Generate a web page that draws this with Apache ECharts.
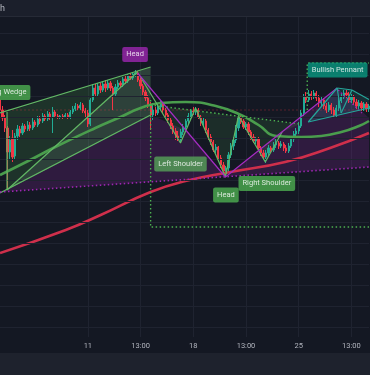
<!DOCTYPE html>
<html><head><meta charset="utf-8">
<script src="https://cdn.jsdelivr.net/npm/echarts@6/dist/echarts.min.js"></script>
<style>html,body{margin:0;padding:0;background:#141823;overflow:hidden}#c{width:370px;height:375px}</style>
</head><body><div id="c"></div>
<script>
// ---- candle data (price units) ----
const openP = [248,238,230,220,196,210,192,212,219,215,
222,219,223,220,226,223,229,227,232,229,
234,231,236,232,231,232,231,233,231,236,
239,242,240,243,237,235,224,248,260,254,
262,258,264,260,265,260,254,261,265,263,
269,267,272,270,274,275,268,262,256,250,
244,233,238,235,241,244,238,233,228,222,
217,212,209,216,221,227,232,237,236,238,
231,225,227,218,211,206,198,201,190,183,
177,180,193,202,208,220,230,227,221,224,
216,211,207,209,200,195,191,195,200,198,
203,205,202,204,200,197,202,209,214,217,
222,235,251,248,254,251,255,250,245,248,
242,238,243,238,233,240,247,251,255,253,
248,251,246,242,245,240,244,239];
const closeP = [238,230,220,196,208,191,212,219,215,222,
219,223,220,226,223,229,227,232,229,234,
231,236,232,231,232,231,233,231,236,239,
242,240,243,237,235,224,248,260,254,262,
258,264,260,265,260,254,261,265,263,269,
267,272,270,274,275,268,262,256,250,244,
233,238,235,241,244,238,233,228,222,217,
212,209,216,221,227,232,237,236,238,231,
225,227,218,211,206,198,201,190,183,177,
180,193,202,208,220,230,227,221,224,216,
211,207,209,200,195,191,195,200,198,203,
205,202,204,200,197,202,209,214,217,222,
235,251,248,254,251,255,250,245,248,242,
238,243,238,233,240,247,251,255,253,248,
251,246,242,245,240,244,239,242];
const lowP = [235,227,216,158,188,186,188,208,211,213,
216,217,217,218,221,221,224,225,227,227,
228,215,230,229,229,229,230,229,229,234,
237,238,238,235,230,221,222,246,251,251,
255,256,256,258,257,238,252,259,260,261,
264,265,268,268,271,266,259,253,247,240,
218,228,232,233,238,235,230,225,219,214,
208,207,206,213,218,224,229,233,233,229,
222,222,215,208,203,196,195,187,180,174,
171,176,190,198,205,217,224,219,218,213,
208,205,204,197,192,188,185,192,195,196,
200,199,200,197,195,195,200,206,211,214,
220,232,245,246,248,249,247,241,242,239,
235,236,234,230,231,237,245,249,250,245,
245,243,239,239,237,237,236,236];
const highP = [251,242,233,222,212,218,215,223,222,225,
224,227,226,230,228,232,232,235,234,237,
236,241,238,234,233,234,235,235,238,242,
245,244,246,245,240,238,250,264,264,265,
265,267,268,268,267,262,264,268,267,271,
272,274,275,276,278,277,270,264,258,253,
246,243,241,244,247,246,240,235,231,225,
220,217,219,224,229,235,239,241,241,240,
233,230,229,220,214,208,204,202,193,186,
182,196,205,211,223,233,232,229,226,226,
218,214,211,211,202,198,198,203,202,206,
209,207,207,206,203,205,212,217,220,226,
238,254,256,258,257,258,257,253,251,250,
245,246,245,241,243,250,254,258,258,256,
254,253,249,248,247,246,246,244];

// ---- time axis ----
const tickIndex = [35,56,77,98,119,140];
const tickLabels = ['11','13:00','18','13:00','25','13:00'];
const gridLevels = [21,42,63,84,105,126,147,168,189,210,231,252,273,294,315];

// ---- moving averages [candle index, price] ----
const maGreen = [[0,173],[12,188],[22,201],[38,220],[48,231],[56,240],[64,245],[74,246],[86,242],[96,233],[103,223],[110,212],[120,211],[128,212],[136,216],[143,222],[147,227]];
const maRed = [[0,95],[26.2,118],[40.1,133],[60,156],[73.9,167],[91.8,176],[113.6,186],[131.5,200],[147,215]];

// ---- drawings [candle index, price] ----
const wedgeUpper = [[0,235],[60,281]];
const wedgeLeft = [[2.8,236],[2.8,158]];
const wedgeInner = [[2.8,158],[54.8,276]];
const wedgeLower = [[0,155],[60,233]];
const wedgeFill = [[2.8,236],[60,281],[60,233],[2.8,158]];
const wedgeInnerFill = [[2.8,158],[54.8,276],[60,281],[60,233]];
const hsV = [[54.8,275],[89.8,171],[134.3,260]];
const hsBase = [[0,156],[147,181]];
const hsFill = [[0,155],[60,233],[73.9,218],[89.8,171],[134.3,260],[147,230],[147,181],[0,156]];
const ihsZig = [[56,271],[71.9,205],[77.9,240],[89.8,171],[95,232],[105.7,186],[112.4,216]];
const ihsNeck = [[60,243],[119.6,224]];
const ihsFill = [[63,242],[71.9,205],[77.9,240],[89.8,171],[95,232],[105.7,186],[112.4,216],[119.6,224]];
const targetBox = [[60,248],[60,121],[147,121]];
const pennantBox = [[122.4,238],[122.4,285],[147,285]];
const pennantLines = [
  [[122.8,226],[134.3,260]],
  [[134.3,260],[140.2,258]],
  [[140.2,258],[147,248.5]],
  [[122.8,226],[147,240]],
  [[134.3,260],[135.9,235]],
  [[135.9,235],[140.2,258]]
];
const pennantFill = [[122.8,226],[134.3,260],[140.2,258],[147,248.5],[147,240]];
const pennantDots = [[134.7,258],[144.2,235]];
const priceLevel = 238;

// ---- annotation labels ----
const labelText = ['Rising Wedge','Head','Left Shoulder','Right Shoulder','Head','Bullish Pennant'];
const labelAt = [[12.3,255.5],[53.8,293.5],[71.9,184],[106.3,164.5],[90,153],[134.5,278]];
const labelColor = ['#4caf50','#9c27b0','#56a259','#4caf50','#4caf50','#089981'];
const labelPos = ['left','inside','inside','inside','inside','inside'];

const categories = openP.map((_, i) => 'c' + i);
const candles = openP.map((o, i) => [o, closeP[i], lowP[i], highP[i]]);

const chart = echarts.init(document.getElementById('c'), null, {renderer: 'canvas'});

function seg(points, color, width, type, z) {
  return {type: 'line', xAxisIndex: 1, yAxisIndex: 0, data: points, symbol: 'none', silent: true,
    z: z || 5, lineStyle: {color, width, type: type || 'solid'}, animation: false};
}
function poly(points, fill, z) {
  return {type: 'custom', xAxisIndex: 1, yAxisIndex: 0, z: z || 1, silent: true, animation: false,
    data: [[points[0][0], points[0][1]]],
    renderItem(params, api) {
      return {type: 'polygon', shape: {points: points.map(p => api.coord(p))}, style: {fill}};
    }};
}

const dotted = [1.5, 2.5];
const series = [
  {type: 'line', xAxisIndex: 1, data: [[0, 11]], symbol: 'none', z: 0, silent: true, lineStyle: {opacity: 0},
    markLine: {silent: true, symbol: 'none', animation: false, label: {show: false},
      lineStyle: {color: '#1f2330', type: 'solid', width: 1},
      data: gridLevels.map(v => ({yAxis: v}))}},
  poly(hsFill, 'rgba(156,39,176,0.2)', 1),
  poly(wedgeFill, 'rgba(76,175,80,0.18)', 1),
  poly(wedgeInnerFill, 'rgba(200,210,220,0.09)', 1),
  poly(ihsFill, 'rgba(76,175,80,0.14)', 1),
  poly(pennantFill, 'rgba(38,166,154,0.16)', 1),
  seg([[0, priceLevel], [147, priceLevel]], 'rgba(242,54,69,0.3)', 1, [2, 2], 1),
  {type: 'candlestick', xAxisIndex: 0, yAxisIndex: 0, data: candles, barWidth: 1.7, z: 3, silent: true, animation: false,
    itemStyle: {color: '#22ab94', color0: '#f23645', borderColor: '#22ab94', borderColor0: '#f23645', borderWidth: 1}},
  {type: 'line', xAxisIndex: 1, data: maRed, smooth: 0.5, symbol: 'none', z: 4, silent: true, animation: false,
    lineStyle: {color: '#cf2f4b', width: 2.6}},
  {type: 'line', xAxisIndex: 1, data: maGreen, smooth: 0.5, symbol: 'none', z: 4, silent: true, animation: false,
    lineStyle: {color: '#4a9d4d', width: 2.6}},
  seg(wedgeUpper, '#62b865', 1.2),
  seg(wedgeLeft, '#62b865', 1.2),
  seg(wedgeInner, '#62b865', 1.2),
  seg(wedgeLower, '#62b865', 1.2),
  seg(ihsZig, '#62b865', 1.2),
  seg(ihsNeck, '#4caf50', 1.4, dotted),
  seg(targetBox, '#4caf50', 1.4, dotted),
  seg(pennantBox, '#4caf50', 1.4, dotted),
  seg(hsV, '#a32cc0', 1.2),
  seg(hsBase, '#9c27b0', 1.6, dotted),
  seg(pennantDots, '#9c27b0', 1.4, dotted),
  ...pennantLines.map(l => seg(l, '#26a69a', 1.2)),
  {type: 'scatter', xAxisIndex: 1, yAxisIndex: 0, symbol: 'circle', symbolSize: 1, z: 10, silent: true, animation: false,
    itemStyle: {color: 'rgba(0,0,0,0)'},
    data: labelText.map((t, k) => ({value: labelAt[k], label: {show: true, position: labelPos[k], distance: 0,
      formatter: t, color: '#ffffff', fontSize: 7.5, fontFamily: 'Roboto', lineHeight: 8,
      backgroundColor: labelColor[k], padding: [3.5, 4, 3.5, 4], borderRadius: 2}}))}
];

chart.setOption({
  backgroundColor: '#141823',
  animation: false,
  grid: {left: -1, right: 1, top: 17, bottom: 38},
  xAxis: [
    {type: 'category', data: categories, boundaryGap: false,
      axisLine: {show: false}, axisTick: {show: false},
      axisLabel: {interval: (i) => tickIndex.includes(i), margin: 5, color: '#b2b5be', fontSize: 7.5, fontFamily: 'Roboto',
        formatter: (v, i) => { const k = tickIndex.indexOf(i); return k >= 0 ? tickLabels[k] : ''; }},
      splitLine: {show: true, interval: (i) => tickIndex.includes(i), lineStyle: {color: '#1f2330', width: 1}}},
    {type: 'value', min: 0, max: 147, show: false, splitLine: {show: false}}
  ],
  yAxis: {type: 'value', min: 11, max: 331, show: false, splitLine: {show: false}},
  graphic: [
    {type: 'rect', left: 0, top: 0, shape: {width: 370, height: 16}, style: {fill: '#1b1f2b'}, z: 100},
    {type: 'rect', left: 0, top: 16, shape: {width: 370, height: 1}, style: {fill: '#262a36'}, z: 100},
    {type: 'text', x: 5, y: 4, style: {text: 'Growth', textAlign: 'right', fill: '#b2b5be', fontSize: 9, fontFamily: 'Roboto'}, z: 101},
    {type: 'rect', left: 0, top: 353, shape: {width: 370, height: 22}, style: {fill: '#1e222d'}, z: 100}
  ],
  series
});
</script></body></html>
